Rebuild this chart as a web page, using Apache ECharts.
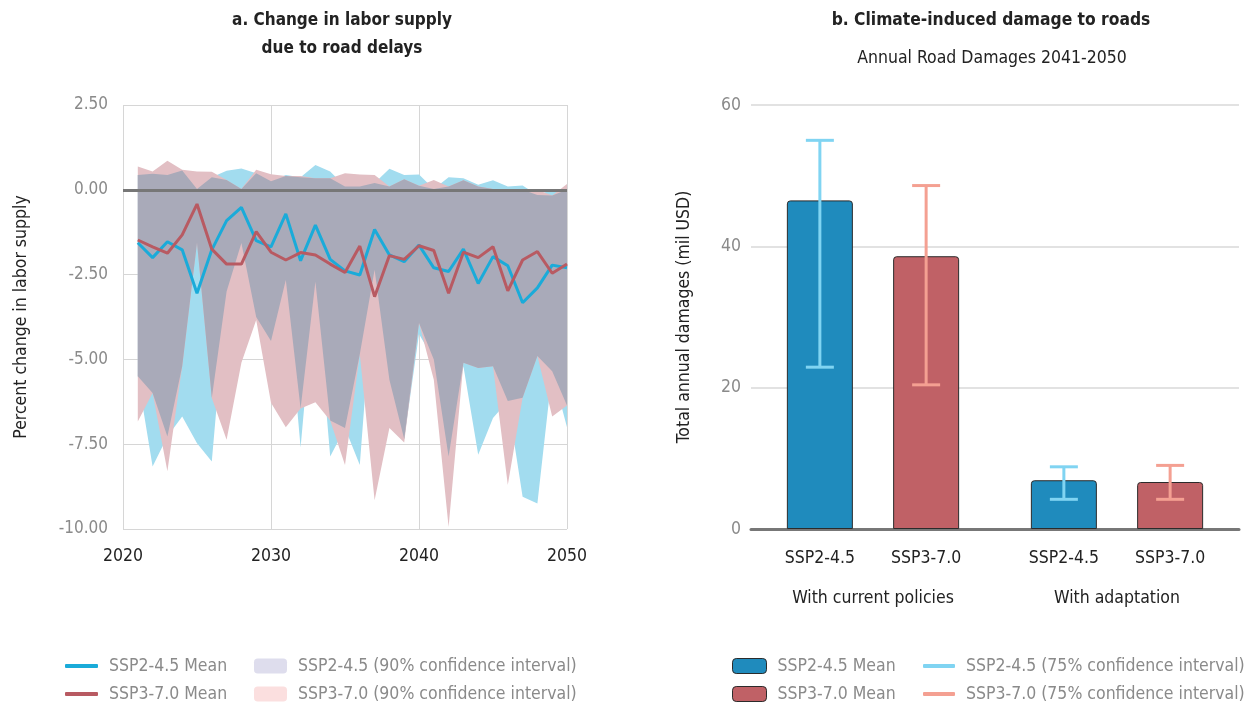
<!DOCTYPE html>
<html><head><meta charset="utf-8">
<script src="https://cdn.jsdelivr.net/npm/echarts@6/dist/echarts.min.js"></script>
<style>html,body{margin:0;padding:0;background:#fff}#c{width:1250px;height:706px}</style>
</head><body><div id="c"></div>
<script>
// ---------- Panel a data ----------
const years = [2021,2022,2023,2024,2025,2026,2027,2028,2029,2030,2031,2032,2033,2034,2035,2036,2037,2038,2039,2040,2041,2042,2043,2044,2045,2046,2047,2048,2049,2050];
const ssp245Mean = [-1.56,-2.00,-1.53,-1.77,-3.05,-1.77,-0.91,-0.52,-1.50,-1.68,-0.71,-2.09,-1.04,-2.05,-2.39,-2.51,-1.17,-1.92,-2.12,-1.63,-2.30,-2.41,-1.75,-2.76,-1.97,-2.24,-3.33,-2.89,-2.22,-2.30];
const ssp370Mean = [-1.48,-1.68,-1.87,-1.33,-0.42,-1.75,-2.19,-2.19,-1.23,-1.84,-2.07,-1.85,-1.92,-2.19,-2.44,-1.66,-3.15,-1.94,-2.05,-1.65,-1.79,-3.05,-1.84,-2.00,-1.68,-2.98,-2.07,-1.82,-2.46,-2.19];
const ssp245Hi = [0.44,0.47,0.44,0.57,0.02,0.37,0.56,0.63,0.49,0.25,0.44,0.37,0.73,0.54,0.10,0.10,0.20,0.62,0.44,0.45,0.02,0.37,0.34,0.15,0.28,0.10,0.13,-0.15,0.00,0.00];
const ssp370Hi = [0.69,0.54,0.86,0.59,0.54,0.53,0.29,0.02,0.59,0.46,0.41,0.41,0.34,0.34,0.49,0.45,0.44,0.10,0.31,0.12,0.29,0.10,0.28,0.10,0.02,0.00,0.00,0.00,-0.17,0.17];
const ssp245Lo = [-5.50,-8.16,-7.27,-6.68,-7.47,-8.01,-3.00,-1.57,-3.75,-4.46,-2.66,-7.60,-2.71,-7.86,-7.02,-8.11,-2.36,-5.60,-7.35,-4.25,-5.00,-7.86,-5.20,-7.81,-6.73,-6.23,-9.05,-9.25,-5.35,-7.00];
const ssp370Lo = [-6.83,-5.99,-8.30,-5.20,-1.56,-6.14,-7.37,-5.10,-3.84,-6.28,-7.00,-6.45,-6.26,-6.80,-8.11,-4.85,-9.15,-7.02,-7.45,-3.93,-5.60,-9.94,-5.10,-5.25,-5.20,-8.70,-6.13,-4.90,-6.68,-6.36];
const yTicksA = [2.5, 0, -2.5, -5, -7.5, -10];

// ---------- Panel b data ----------
const groups = ['With current policies', 'With adaptation'];
const scenarios = ['SSP2-4.5', 'SSP3-7.0'];
const ssp245Damage = [46.5, 6.9];
const ssp245Low = [22.9, 4.2];
const ssp245High = [55.0, 8.8];
const ssp370Damage = [38.6, 6.65];
const ssp370Low = [20.4, 4.2];
const ssp370High = [48.6, 9.0];

// ---------- styling ----------
const FONT = '"DejaVu Sans Condensed", "Liberation Sans Narrow", sans-serif';
const C_BLUE = '#1aabd9', C_RED = '#b85a62';
const C_BAND_B = '#a2dcef', C_BAND_R = '#e2bfc4', C_BAND_O = '#a9aab9';
const C_BAR_B = '#1f8bbd', C_BAR_R = '#c06166';
const C_ERR_B = '#80d4f2', C_ERR_R = '#f4a092';
const BAR_W = 66, BAR_GAP = 0.61;

const ovLo = years.map((_, i) => Math.max(ssp245Lo[i], ssp370Lo[i]));
const ovHi = years.map((_, i) => Math.min(ssp245Hi[i], ssp370Hi[i]));

function band(name, lo, hi, color) {
  return {
    type: 'custom', name: name, xAxisIndex: 0, yAxisIndex: 0, silent: true,
    itemStyle: { color: color },
    data: years.map((y, i) => [y, lo[i], hi[i]]),
    encode: { x: 0, y: [1, 2] },
    renderItem: function (params, api) {
      if (params.dataIndex !== 0) return null;
      const pts = [];
      for (let i = 0; i < years.length; i++) pts.push(api.coord([years[i], hi[i]]));
      for (let i = years.length - 1; i >= 0; i--) pts.push(api.coord([years[i], lo[i]]));
      return { type: 'polygon', shape: { points: pts }, style: { fill: color } };
    }
  };
}

function errBars(name, idx, low, high, color) {
  const off = (idx === 0 ? -1 : 1) * (BAR_W + BAR_W * BAR_GAP) / 2;
  return {
    type: 'custom', name: name, xAxisIndex: 1, yAxisIndex: 1, silent: true, z: 5,
    itemStyle: { color: color },
    data: groups.map((g, i) => [i, low[i], high[i]]),
    encode: { x: 0, y: [1, 2] },
    renderItem: function (params, api) {
      const t = api.coord([api.value(0), api.value(2)]);
      const b = api.coord([api.value(0), api.value(1)]);
      const x = t[0] + off, h = 14;
      const st = { stroke: color, lineWidth: 3, fill: null };
      return { type: 'group', children: [
        { type: 'line', shape: { x1: x, y1: t[1], x2: x, y2: b[1] }, style: st },
        { type: 'line', shape: { x1: x - h, y1: t[1], x2: x + h, y2: t[1] }, style: st },
        { type: 'line', shape: { x1: x - h, y1: b[1], x2: x + h, y2: b[1] }, style: st }
      ]};
    }
  };
}

const legendText = { fontFamily: FONT, fontSize: 17.5, color: '#8a8a8a', lineHeight: 20, padding: [0, 0, 0, 6] };
const stripName = n => n.replace(/^[LR]:/, '');
const legendBase = { orient: 'vertical', top: 656, itemGap: 8, icon: 'roundRect', padding: 0,
  selectedMode: false, textStyle: legendText, formatter: stripName };

const option = {
  animation: false,
  backgroundColor: '#fff',
  textStyle: { fontFamily: FONT },
  grid: [
    { left: 123, top: 105, width: 444, height: 424, containLabel: false },
    { left: 751, top: 105, width: 488, height: 424, containLabel: false }
  ],
  xAxis: [
    { type: 'value', gridIndex: 0, min: 2020, max: 2050, interval: 10,
      axisLine: { show: false }, axisTick: { show: false },
      axisLabel: { color: '#222', fontSize: 17.5, margin: 18, fontFamily: FONT, formatter: v => String(v) },
      splitLine: { show: true, lineStyle: { color: '#d6d6d6', width: 1 } } },
    { type: 'category', gridIndex: 1, data: groups,
      axisLine: { show: true, lineStyle: { color: '#777', width: 3 } }, axisTick: { show: false },
      axisLabel: { color: '#222', fontSize: 17.5, margin: 60, fontFamily: FONT },
      splitLine: { show: false } }
  ],
  yAxis: [
    { type: 'value', gridIndex: 0, min: -10, max: 2.5, interval: 2.5,
      name: 'Percent change in labor supply', nameLocation: 'middle', nameGap: 93, nameRotate: 90,
      nameTextStyle: { color: '#222', fontSize: 17.5, fontFamily: FONT },
      axisLine: { show: false }, axisTick: { show: false },
      axisLabel: { color: '#8a8a8a', fontSize: 17, margin: 15, fontFamily: FONT, formatter: v => v.toFixed(2) },
      splitLine: { show: true, lineStyle: { color: '#d6d6d6', width: 1 } } },
    { type: 'value', gridIndex: 1, min: 0, max: 60, interval: 20,
      name: 'Total annual damages (mil USD)', nameLocation: 'middle', nameGap: 58, nameRotate: 90,
      nameTextStyle: { color: '#222', fontSize: 17.5, fontFamily: FONT },
      axisLine: { show: false }, axisTick: { show: false },
      axisLabel: { color: '#8a8a8a', fontSize: 17.5, margin: 10, fontFamily: FONT },
      splitLine: { show: true, lineStyle: { color: '#d9d9d9', width: 1.5 } } }
  ],
  legend: [
    Object.assign({}, legendBase, { left: 65, itemWidth: 33, itemHeight: 4,
      data: [{ name: 'L:SSP2-4.5 Mean', itemStyle: { color: C_BLUE } }, { name: 'L:SSP3-7.0 Mean', itemStyle: { color: C_RED } }] }),
    Object.assign({}, legendBase, { left: 254, itemWidth: 33, itemHeight: 15,
      data: [{ name: 'SSP2-4.5 (90% confidence interval)', itemStyle: { color: '#dedded' } },
             { name: 'SSP3-7.0 (90% confidence interval)', itemStyle: { color: '#fbdfdf' } }] }),
    Object.assign({}, legendBase, { left: 732, itemWidth: 34, itemHeight: 15,
      data: [{ name: 'R:SSP2-4.5 Mean', itemStyle: { color: C_BAR_B, borderColor: '#2b2b2b', borderWidth: 1 } },
             { name: 'R:SSP3-7.0 Mean', itemStyle: { color: C_BAR_R, borderColor: '#2b2b2b', borderWidth: 1 } }] }),
    Object.assign({}, legendBase, { left: 923, itemWidth: 32, itemHeight: 4,
      data: [{ name: 'SSP2-4.5 (75% confidence interval)', itemStyle: { color: C_ERR_B } },
             { name: 'SSP3-7.0 (75% confidence interval)', itemStyle: { color: C_ERR_R } }] })
  ],
  graphic: [
    { type: 'text', x: 342, y: 21, style: { text: 'a. Change in labor supply', textAlign: 'center', textVerticalAlign: 'middle', font: 'bold 17px ' + FONT, fill: '#222' } },
    { type: 'text', x: 342, y: 49, style: { text: 'due to road delays', textAlign: 'center', textVerticalAlign: 'middle', font: 'bold 17px ' + FONT, fill: '#222' } },
    { type: 'text', x: 991, y: 21, style: { text: 'b. Climate-induced damage to roads', textAlign: 'center', textVerticalAlign: 'middle', font: 'bold 17.3px ' + FONT, fill: '#222' } },
    { type: 'text', x: 992, y: 58, style: { text: 'Annual Road Damages 2041-2050', textAlign: 'center', textVerticalAlign: 'middle', font: '17.5px ' + FONT, fill: '#222' } }
  ],
  series: [
    band('SSP2-4.5 (90% confidence interval)', ssp245Lo, ssp245Hi, C_BAND_B),
    band('SSP3-7.0 (90% confidence interval)', ssp370Lo, ssp370Hi, C_BAND_R),
    band('overlap', ovLo, ovHi, C_BAND_O),
    { type: 'line', name: 'L:SSP2-4.5 Mean', xAxisIndex: 0, yAxisIndex: 0, symbol: 'none', z: 4,
      lineStyle: { color: C_BLUE, width: 3 }, itemStyle: { color: C_BLUE },
      data: years.map((y, i) => [y, ssp245Mean[i]]),
      markLine: { silent: true, symbol: 'none', label: { show: false },
        lineStyle: { color: '#777', width: 3, type: 'solid' }, data: [{ yAxis: 0 }] } },
    { type: 'line', name: 'L:SSP3-7.0 Mean', xAxisIndex: 0, yAxisIndex: 0, symbol: 'none', z: 4,
      lineStyle: { color: C_RED, width: 3 }, itemStyle: { color: C_RED },
      data: years.map((y, i) => [y, ssp370Mean[i]]) },
    { type: 'bar', name: 'R:SSP2-4.5 Mean', xAxisIndex: 1, yAxisIndex: 1, barWidth: BAR_W, barGap: (BAR_GAP * 100) + '%',
      itemStyle: { color: C_BAR_B, borderColor: '#2b2b2b', borderWidth: 1, borderRadius: [3, 3, 0, 0] },
      label: { show: true, position: 'bottom', distance: 20, color: '#222', fontSize: 17.5, fontFamily: FONT, formatter: () => scenarios[0] },
      data: ssp245Damage },
    { type: 'bar', name: 'R:SSP3-7.0 Mean', xAxisIndex: 1, yAxisIndex: 1, barWidth: BAR_W, barGap: (BAR_GAP * 100) + '%',
      itemStyle: { color: C_BAR_R, borderColor: '#2b2b2b', borderWidth: 1, borderRadius: [3, 3, 0, 0] },
      label: { show: true, position: 'bottom', distance: 20, color: '#222', fontSize: 17.5, fontFamily: FONT, formatter: () => scenarios[1] },
      data: ssp370Damage },
    errBars('SSP2-4.5 (75% confidence interval)', 0, ssp245Low, ssp245High, C_ERR_B),
    errBars('SSP3-7.0 (75% confidence interval)', 1, ssp370Low, ssp370High, C_ERR_R)
  ]
};
const chart = echarts.init(document.getElementById('c'), null, { renderer: 'canvas' });
chart.setOption(option);
</script></body></html>
